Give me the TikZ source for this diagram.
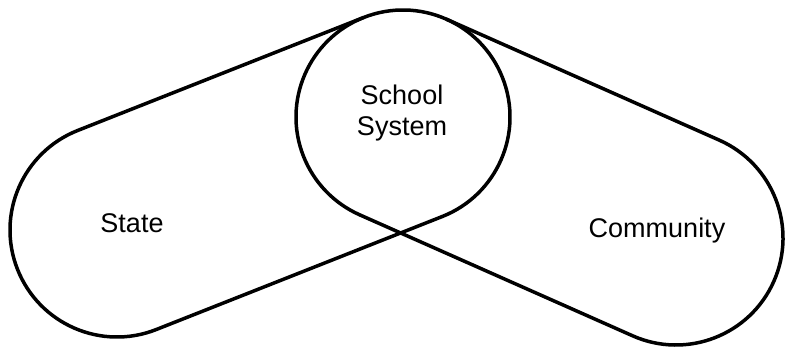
\documentclass[tikz,border=0pt]{standalone}
\usepackage{fontspec}
\setmainfont{Liberation Sans}
\usetikzlibrary{calc}
\begin{document}
\begin{tikzpicture}[x=1pt,y=1pt,
  outline/.style={draw=black,line width=3.5pt,line join=round,line cap=round},
  lbl/.style={font=\fontsize{27}{31}\selectfont,inner sep=0pt,anchor=base}]
\useasboundingbox (0,0) rectangle (785,347);
\def\rr{107}
\coordinate (C) at (403,230);
\coordinate (L) at (117,117);
\coordinate (R) at (676,109);
% school system circle (open at the bottom where the capsules cross)
\draw[outline] ($(C)+(-68.44:\rr)$) arc[start angle=-68.44,end angle=246.1,radius=\rr];
% state capsule
\draw[outline] ($(C)+(111.56:\rr)$) -- ($(L)+(111.56:\rr)$)
  arc[start angle=111.56,end angle=291.56,radius=\rr] -- ($(C)+(-68.44:\rr)$);
% community capsule
\draw[outline] ($(C)+(66.1:\rr)$) -- ($(R)+(66.1:\rr)$)
  arc[start angle=66.1,end angle=-113.9,radius=\rr] -- ($(C)+(-113.9:\rr)$);
\node[lbl] (school) at (402,242) {School};
\node[lbl] (system) at (402,211) {System};
\node[lbl] (state) at (132,114) {State};
\node[lbl] (community) at (657,109) {Community};
\end{tikzpicture}
\end{document}
